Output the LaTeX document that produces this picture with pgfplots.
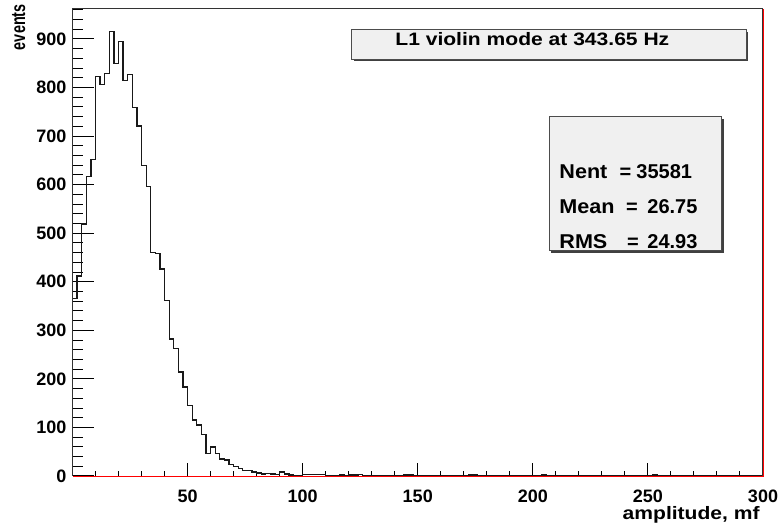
\documentclass[border=0pt]{standalone}
\usepackage{fontspec}
\setmainfont{Liberation Sans}
\newfontfamily\widefont{Liberation Sans}[FakeStretch=1.17]
\newfontfamily\statfont{Liberation Sans}[FakeStretch=1.08]
\newfontfamily\narrowfont{Liberation Sans}[FakeStretch=0.72]
\usepackage{pgfplots}
\pgfplotsset{compat=1.18}

% ROOT-like frame: 1px of the reference = 0.5pt
\pgfplotsset{
  rootaxis/.style={
    scale only axis, width=345.25pt, height=233.5pt,
    at={(36.25pt,26pt)}, anchor=south west,
    xmin=0, xmax=300, ymin=0, ymax=961.7,
    axis line style={draw=none},
    tick align=inside,
    tick style={black, line width=0.5pt},
    /pgf/number format/assume math mode=true,
    ticklabel style={font=\bfseries\fontsize{9}{9}\selectfont, inner sep=0pt},
  },
}

\begin{document}
\begin{tikzpicture}
\useasboundingbox (0,0) rectangle (390.5pt,264pt);

% y ticks and labels
\begin{axis}[rootaxis,
  xtick=\empty,
  ytick={0,100,...,900}, minor ytick={0,20,...,960},
  ytick pos=left,
  major tick length=10.5pt, minor tick length=5.3pt,
  yticklabel style={xshift=-2.9pt},
]
\end{axis}

% x ticks and histogram
\begin{axis}[rootaxis,
  ytick=\empty,
  xtick={0,50,...,300}, xticklabels={,50,100,150,200,250,300},
  minor xtick={0,10,...,300},
  xtick pos=bottom,
  major tick length=6.5pt, minor tick length=2.5pt,
  xticklabel style={yshift=-7pt},
]
\addplot[const plot, black!90, line width=0.65pt] coordinates {
(0,0) (0,366) (2,412) (4,519) (6,617) (8,652) (10,823) (12,806) (14,829)
(16,916) (18,849) (20,895) (22,815) (24,827) (26,759) (28,721) (30,640)
(32,596) (34,460) (36,458) (38,426) (40,361) (42,282) (44,262) (46,214)
(48,183) (50,145) (52,115) (54,105) (56,86) (58,47) (60,60) (62,47)
(64,35) (66,33) (68,24) (70,19) (72,16) (74,12) (76,11) (78,8)
(80,6) (82,4) (84,5) (86,4) (88,3) (90,8) (92,4) (94,2) (96,1) (98,1)
(100,3) (102,3) (104,3) (106,3) (108,3) (110,1) (112,0) (114,1) (116,2) (118,0)
(120,2) (122,2) (124,3) (126,1) (128,0) (130,0) (132,0) (134,1) (136,0) (138,1)
(140,0) (142,0) (144,2) (146,2) (148,0) (150,0) (152,1) (154,0) (156,0) (158,1)
(160,0) (162,0) (164,0) (166,0) (168,0) (170,0) (172,2) (174,2) (176,0) (178,0)
(180,0) (182,0) (184,0) (186,1) (188,0) (190,0) (192,0) (194,0) (196,0) (198,0)
(200,0) (202,0) (204,2) (206,1) (208,0) (210,0) (212,1) (214,0) (216,0) (218,0)
(220,0) (222,0) (224,0) (226,0) (228,0) (230,0) (232,0) (234,0) (236,0) (238,0)
(240,0) (242,0) (244,0) (246,0) (248,0) (250,0) (252,2) (254,0) (256,0) (258,0)
(260,0) (262,0) (264,0) (266,0) (268,0) (270,0) (272,0) (274,1) (276,0) (278,0)
(280,0) (282,1) (284,0) (286,0) (288,0) (290,0) (292,1) (294,0) (296,0) (298,0)
(300,0)
};
\end{axis}

% frame and annotations in reference pixel coordinates (y down)
\begin{scope}[x=0.5pt, y=-0.5pt, yshift=264pt]
  % frame
  \draw[black!80, line width=0.5pt] (72.5,476) -- (72.5,9) -- (763,9);
  \draw[black!80, line width=0.5pt] (762.3,9) -- (762.3,476);
  \draw[red, line width=0.6pt] (763.5,9) -- (763.5,476.3) -- (72.5,476.3);
  % title box
  \fill[black!75] (353.7,32) rectangle (748,61.3);
  \filldraw[fill=black!6, draw=black!70, line width=0.5pt] (351.7,30) rectangle (746,59.3);
  \node[anchor=base west, inner sep=0pt, font=\widefont\bfseries\fontsize{9}{9}\selectfont]
    at (395,46) {L1 violin mode at 343.65 Hz};
  % stats box
  \fill[black!75] (551.3,118.7) rectangle (723.7,252.7);
  \filldraw[fill=black!6, draw=black!70, line width=0.5pt] (549.3,116.7) rectangle (721.7,250.7);
  \begin{scope}[every node/.style={inner sep=0pt, font=\bfseries\fontsize{10}{10}\selectfont}]
    \node[anchor=base west, font=\statfont\bfseries\fontsize{10}{10}\selectfont] at (559,178.3) {Nent};
    \node[anchor=base] at (625.5,178.3) {=};
    \node[anchor=base west] at (636,178.3) {35581};
    \node[anchor=base west, font=\statfont\bfseries\fontsize{10}{10}\selectfont] at (559,213.3) {Mean};
    \node[anchor=base] at (632,213.3) {=};
    \node[anchor=base west] at (647,213.3) {26.75};
    \node[anchor=base west, font=\statfont\bfseries\fontsize{10}{10}\selectfont] at (559,248.3) {RMS};
    \node[anchor=base] at (633,248.3) {=};
    \node[anchor=base west] at (647,248.3) {24.93};
  \end{scope}
  % axis titles
  \node[anchor=base east, inner sep=0pt, font=\widefont\bfseries\fontsize{9}{9}\selectfont]
    at (760,520) {amplitude, mf};
  \node[rotate=90, anchor=base east, inner sep=0pt, font=\narrowfont\bfseries\fontsize{10}{10}\selectfont]
    at (25,4) {events};
\end{scope}
\end{tikzpicture}
\end{document}
